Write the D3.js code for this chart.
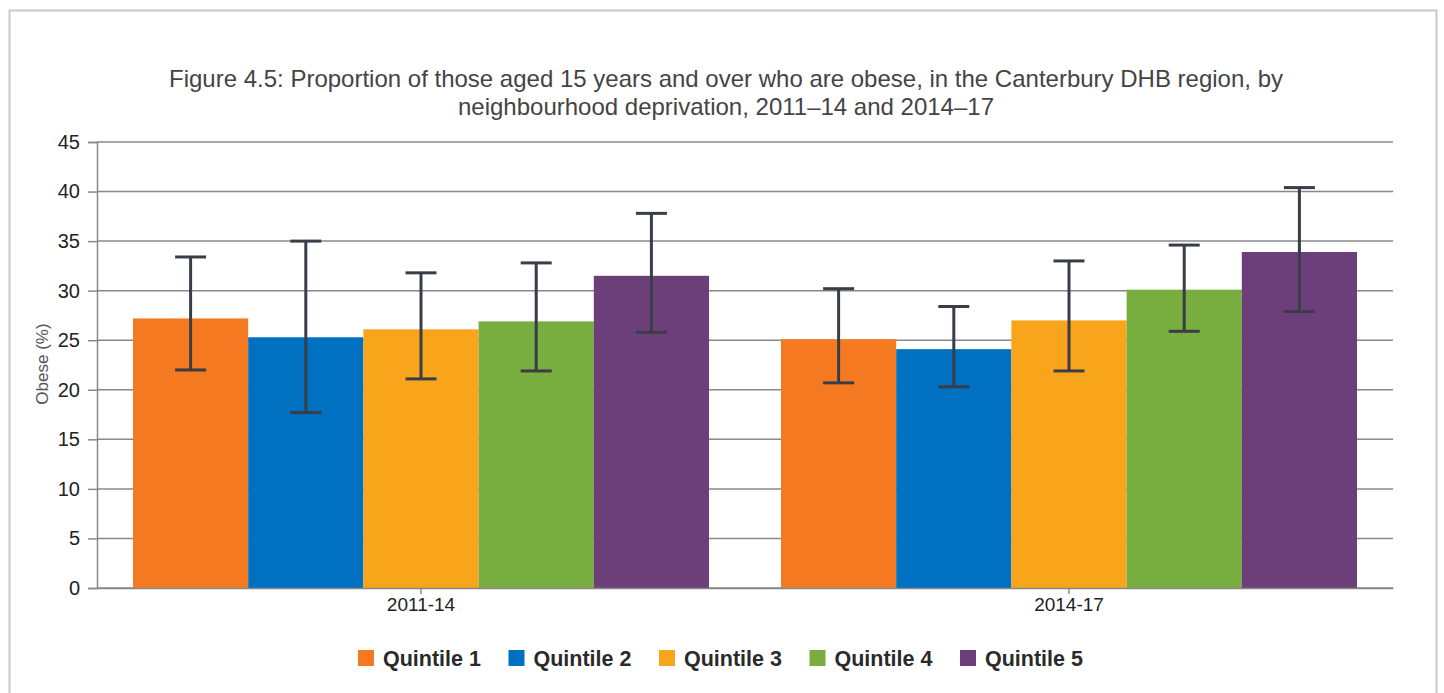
<!DOCTYPE html>
<html>
<head>
<meta charset="utf-8">
<script src="https://cdn.jsdelivr.net/npm/d3@7"></script>
<style>
  body { margin: 0; background: #fff; }
  text { font-family: "Liberation Sans", Arial, sans-serif; }
</style>
</head>
<body>
<svg id="chart"></svg>
<script>
// periods and series
const periods = ['2011-14', '2014-17'];
const quintiles = ['Quintile 1', 'Quintile 2', 'Quintile 3', 'Quintile 4', 'Quintile 5'];
const colors = ['#f47920', '#0070c0', '#f8a51c', '#78ad3f', '#6c3f7a'];

// value per quintile, one entry per period
const values = [
  [27.2, 25.1],
  [25.3, 24.1],
  [26.1, 27.0],
  [26.9, 30.1],
  [31.5, 33.9]
];
// 95% CI
const lower = [
  [22.0, 20.7],
  [17.7, 20.3],
  [21.1, 21.9],
  [21.9, 25.9],
  [25.8, 27.9]
];
const upper = [
  [33.4, 30.2],
  [35.0, 28.4],
  [31.8, 33.0],
  [32.8, 34.6],
  [37.8, 40.4]
];
const yTicks = [0, 5, 10, 15, 20, 25, 30, 35, 40, 45];

const width = 1444;
const height = 693;
const margin = { top: 142, right: 51, bottom: 105, left: 97 };

const svg = d3.select('#chart')
  .attr('width', width)
  .attr('height', height);

// outer frame
svg.append('rect')
  .attr('x', 9.5)
  .attr('y', 10.5)
  .attr('width', 1427)
  .attr('height', 700)
  .attr('fill', 'none')
  .attr('stroke', '#c8c8c8')
  .attr('stroke-width', 2);

// title
const title = svg.append('text')
  .attr('text-anchor', 'middle')
  .attr('font-size', '24px')
  .attr('fill', '#444');
title.append('tspan')
  .attr('x', 726).attr('y', 87)
  .text('Figure 4.5: Proportion of those aged 15 years and over who are obese, in the Canterbury DHB region, by');
title.append('tspan')
  .attr('x', 726).attr('y', 115)
  .text('neighbourhood deprivation, 2011–14 and 2014–17');

const x0 = d3.scaleBand()
  .domain(periods)
  .range([margin.left, width - margin.right]);

const x1 = d3.scaleBand()
  .domain(quintiles)
  .range([0, x0.bandwidth()])
  .paddingOuter(0.3125);

const y = d3.scaleLinear()
  .domain([0, 45])
  .range([height - margin.bottom, margin.top]);

// grid + y axis
const yAxis = svg.append('g')
  .attr('transform', `translate(${margin.left},0)`)
  .call(d3.axisLeft(y)
    .tickValues(yTicks)
    .tickSize(9)
    .tickPadding(8));
yAxis.select('.domain').attr('stroke', '#888').attr('stroke-width', 1.5);
yAxis.selectAll('.tick line').attr('stroke', '#888').attr('stroke-width', 1.5);
yAxis.selectAll('.tick text')
  .attr('font-size', '20px')
  .attr('fill', '#222')
  .style('font-family', '"Liberation Sans", Arial, sans-serif');

svg.append('g')
  .selectAll('line')
  .data(yTicks)
  .enter()
  .append('line')
  .attr('x1', margin.left)
  .attr('x2', width - margin.right)
  .attr('y1', d => y(d))
  .attr('y2', d => y(d))
  .attr('stroke', '#888')
  .attr('stroke-width', 1.5);

svg.append('text')
  .attr('transform', 'rotate(-90)')
  .attr('x', -364)
  .attr('y', 48)
  .attr('text-anchor', 'middle')
  .attr('font-size', '17px')
  .attr('fill', '#555')
  .text('Obese (%)');

// bars
const groups = svg.append('g')
  .selectAll('g')
  .data(quintiles)
  .enter()
  .append('g')
  .attr('fill', (d, i) => colors[i]);

groups.selectAll('rect')
  .data((q, qi) => periods.map((p, pi) => ({ p, q, v: values[qi][pi] })))
  .enter()
  .append('rect')
  .attr('x', d => x0(d.p) + x1(d.q))
  .attr('y', d => y(d.v))
  .attr('width', x1.bandwidth())
  .attr('height', d => y(0) - y(d.v));

// error bars
const errs = [];
quintiles.forEach((q, qi) => {
  periods.forEach((p, pi) => {
    errs.push({ p, q, lo: lower[qi][pi], hi: upper[qi][pi] });
  });
});
const cap = 15.5;
const eg = svg.append('g')
  .attr('stroke', '#383d48')
  .attr('stroke-width', 3);
errs.forEach(d => {
  const cx = x0(d.p) + x1(d.q) + x1.bandwidth() / 2;
  eg.append('line')
    .attr('x1', cx).attr('x2', cx)
    .attr('y1', y(d.lo)).attr('y2', y(d.hi));
  eg.append('line')
    .attr('x1', cx - cap).attr('x2', cx + cap)
    .attr('y1', y(d.lo)).attr('y2', y(d.lo));
  eg.append('line')
    .attr('x1', cx - cap).attr('x2', cx + cap)
    .attr('y1', y(d.hi)).attr('y2', y(d.hi));
});

// x axis
const xAxis = svg.append('g')
  .attr('transform', `translate(0,${y(0)})`)
  .call(d3.axisBottom(x0).tickSize(6).tickPadding(4).tickSizeOuter(0));
xAxis.select('.domain').attr('stroke', '#888').attr('stroke-width', 1.5);
xAxis.selectAll('.tick line').attr('stroke', '#888').attr('stroke-width', 1.5);
xAxis.selectAll('.tick text')
  .attr('font-size', '19px')
  .attr('fill', '#222')
  .style('font-family', '"Liberation Sans", Arial, sans-serif');

// legend
const legend = svg.append('g')
  .selectAll('g')
  .data(quintiles)
  .enter()
  .append('g')
  .attr('transform', (d, i) => `translate(${358 + i * 150.5},650)`);

legend.append('rect')
  .attr('width', 16)
  .attr('height', 16)
  .attr('fill', (d, i) => colors[i]);

legend.append('text')
  .attr('x', 25)
  .attr('y', 15.5)
  .attr('font-size', '21.5px')
  .attr('font-weight', 'bold')
  .attr('fill', '#2a2a2a')
  .text(d => d);
</script>
</body>
</html>
